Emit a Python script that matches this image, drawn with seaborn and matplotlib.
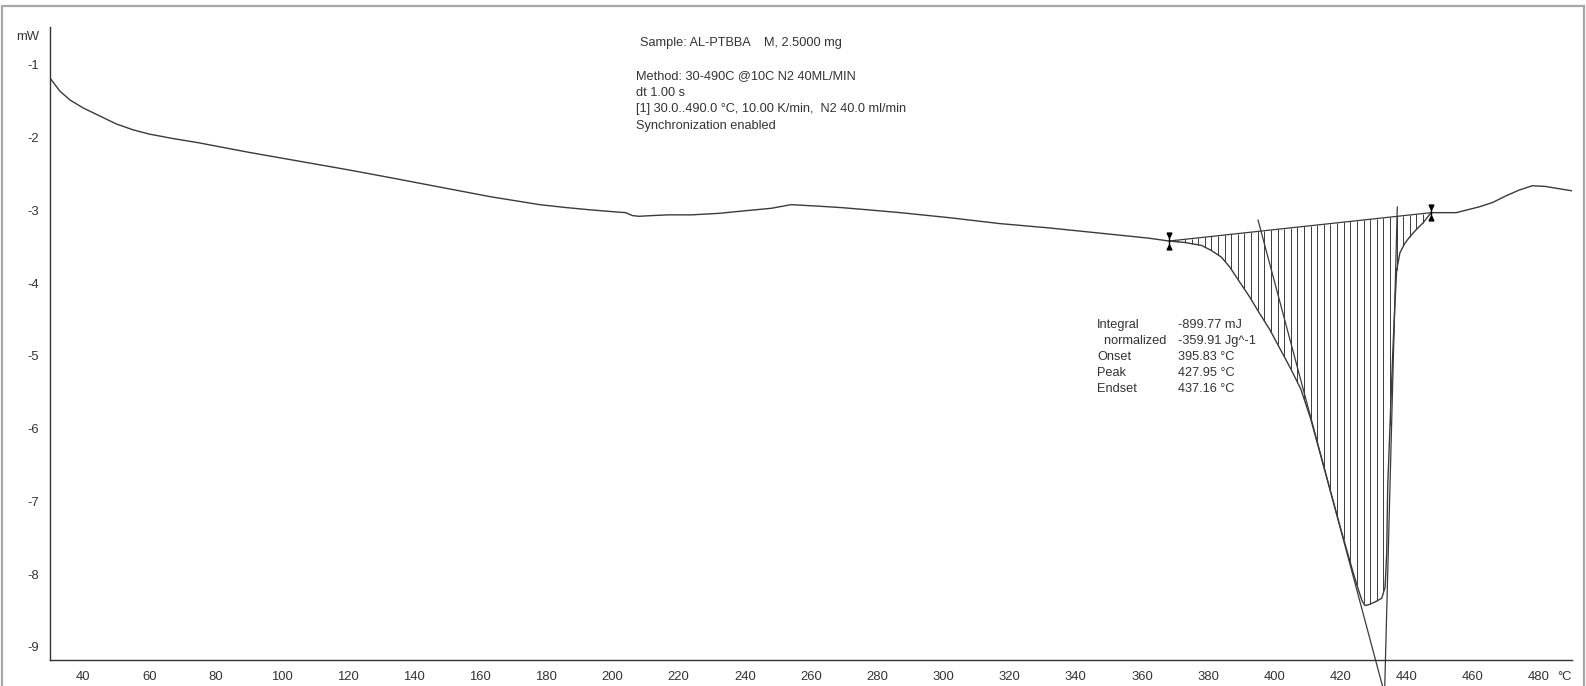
import numpy as np
import pandas as pd
import matplotlib
matplotlib.use("Agg")
import matplotlib.pyplot as plt
import seaborn as sns
from matplotlib.patches import Rectangle
from matplotlib.ticker import MultipleLocator, FixedLocator

# ---------------- data ----------------
temperature = [30, 33, 36, 40, 45, 50, 55, 60, 67, 75, 90, 105, 120, 133, 148, 163,
               178, 186, 193, 201, 204, 206, 208, 212, 217, 224, 232, 241, 248, 254,
               258, 262, 269, 277, 287, 302, 317, 332, 347, 362, 368.2, 373, 378, 381,
               384, 386.6, 389.5, 392.6, 395.5, 398.7, 401.5, 404.7, 408, 411, 414,
               417, 420, 422, 424, 425.5, 426.5, 427.4, 428.5, 430.5, 432.5, 433.5,
               434, 434.3, 435.0, 435.8, 436.5, 437, 438, 439.5, 441, 443, 445, 447.4,
               450, 455, 462, 466, 470, 474, 478, 482, 486, 490]
heat_flow = [-1.18, -1.36, -1.48, -1.59, -1.70, -1.81, -1.89, -1.95, -2.01, -2.07,
             -2.20, -2.32, -2.44, -2.55, -2.68, -2.81, -2.92, -2.96, -2.99, -3.02,
             -3.03, -3.07, -3.08, -3.07, -3.06, -3.06, -3.04, -3.00, -2.97, -2.92,
             -2.93, -2.94, -2.96, -2.99, -3.03, -3.10, -3.18, -3.24, -3.31, -3.38,
             -3.42, -3.44, -3.48, -3.55, -3.64, -3.78, -3.98, -4.19, -4.41, -4.64,
             -4.88, -5.15, -5.45, -5.86, -6.36, -6.86, -7.36, -7.68, -8.00, -8.22,
             -8.36, -8.43, -8.42, -8.38, -8.33, -8.18, -7.71, -6.80, -5.95, -5.00,
             -4.27, -3.82, -3.58, -3.45, -3.36, -3.26, -3.17, -3.03, -3.03, -3.03,
             -2.95, -2.89, -2.80, -2.72, -2.66, -2.67, -2.70, -2.73]

baseline_temp = [368.2, 447.4]
baseline_flow = [-3.42, -3.03]
onset_tangent_temp = [395.1, 432.8]
onset_tangent_flow = [-3.13, -9.55]
endset_line_temp = [437.2, 433.4]
endset_line_flow = [-2.95, -9.55]

x_ticks = list(range(40, 481, 20))
y_ticks = [-0.6, -1, -2, -3, -4, -5, -6, -7, -8, -9]
y_tick_labels = ["mW", "-1", "-2", "-3", "-4", "-5", "-6", "-7", "-8", "-9"]

header_lines = ["Method: 30-490C @10C N2 40ML/MIN",
                "dt 1.00 s",
                "[1] 30.0..490.0 \u00b0C, 10.00 K/min,  N2 40.0 ml/min",
                "Synchronization enabled"]
sample_line = "Sample: AL-PTBBA    M, 2.5000 mg"
result_names = ["Integral", "  normalized", "Onset", "Peak", "Endset"]
result_values = ["-899.77 mJ", "-359.91 Jg^-1", "395.83 \u00b0C", "427.95 \u00b0C", "437.16 \u00b0C"]

# ---------------- style ----------------
sns.set_style("white")
plt.rcParams["font.family"] = ["Liberation Sans", "DejaVu Sans"]
INK = "#333333"
TXT = 9.2

W, H = 1586, 686
fig = plt.figure(figsize=(W / 100, H / 100), dpi=100)
fig.patch.set_facecolor("white")

ax_l, ax_r, ax_t, ax_b = 50, 1572, 27, 660
ax = fig.add_axes([ax_l / W, 1 - ax_b / H, (ax_r - ax_l) / W, (ax_b - ax_t) / H])

df = pd.DataFrame({"Temperature": temperature, "HeatFlow": heat_flow})
sns.lineplot(data=df, x="Temperature", y="HeatFlow", ax=ax, color="#3a3a3a",
             linewidth=1.0, sort=False, estimator=None)

# hatching between baseline and curve
hatch_x = np.arange(369.0, 447.5, 2.0)
hatch_base = np.interp(hatch_x, baseline_temp, baseline_flow)
hatch_curve = np.interp(hatch_x, temperature, heat_flow)
ax.vlines(hatch_x, hatch_curve, hatch_base, colors="#3a3a3a", linewidth=0.7)

# baseline and construction lines
ax.plot(baseline_temp, baseline_flow, color="#3a3a3a", linewidth=0.9)
ax.plot(onset_tangent_temp, onset_tangent_flow, color="#3a3a3a", linewidth=0.9, clip_on=False)
ax.plot(endset_line_temp, endset_line_flow, color="#3a3a3a", linewidth=0.9, clip_on=False)

# integration limit markers
for tx, fy in zip(baseline_temp, baseline_flow):
    ax.plot([tx, tx], [fy - 0.09, fy + 0.09], color="black", linewidth=1.0)
    ax.plot([tx], [fy + 0.08], marker="v", color="black", markersize=3.5)
    ax.plot([tx], [fy - 0.08], marker="^", color="black", markersize=3.5)

ax.set_xlim(30, 490)
ax.set_ylim(-9.179, -0.478)
ax.set_xlabel("")
ax.set_ylabel("")

ax.xaxis.set_major_locator(FixedLocator(x_ticks))
ax.set_xticklabels([str(v) for v in x_ticks])
ax.xaxis.set_minor_locator(MultipleLocator(10))
ax.yaxis.set_major_locator(FixedLocator(y_ticks))
ax.set_yticklabels(y_tick_labels)
ax.yaxis.set_minor_locator(MultipleLocator(0.2))

ax.tick_params(axis="both", which="major", direction="out", length=5, width=0.9,
               color=INK, labelcolor=INK, labelsize=9.4, pad=3)
ax.tick_params(axis="both", which="minor", direction="out", length=3, width=0.8, color=INK)

for side in ["top", "right"]:
    ax.spines[side].set_visible(False)
for side in ["left", "bottom"]:
    ax.spines[side].set_color(INK)
    ax.spines[side].set_linewidth(1.0)

# unit label on the x axis
fig.text(1565 / W, 1 - 677 / H, "\u00b0C", ha="center", va="center", fontsize=9.4, color=INK)

# header text
fig.text(640 / W, 1 - 43 / H, sample_line, ha="left", va="center", fontsize=TXT, color=INK)
for i, line in enumerate(header_lines):
    fig.text(636 / W, 1 - (76 + i * 16.5) / H, line, ha="left", va="center",
             fontsize=TXT, color=INK)

# results block
for i, (name, val) in enumerate(zip(result_names, result_values)):
    y = 1 - (325 + i * 16) / H
    fig.text(1097 / W, y, name, ha="left", va="center", fontsize=TXT, color=INK)
    fig.text(1178 / W, y, val, ha="left", va="center", fontsize=TXT, color=INK)

# outer gray frame
fig.add_artist(Rectangle((2 / W, -0.01), (1584 - 2) / W, (H - 6) / H + 0.01,
                         transform=fig.transFigure, fill=False,
                         edgecolor="#a8a8a8", linewidth=1.6))

fig.savefig("out.png", dpi=100, facecolor="white")
